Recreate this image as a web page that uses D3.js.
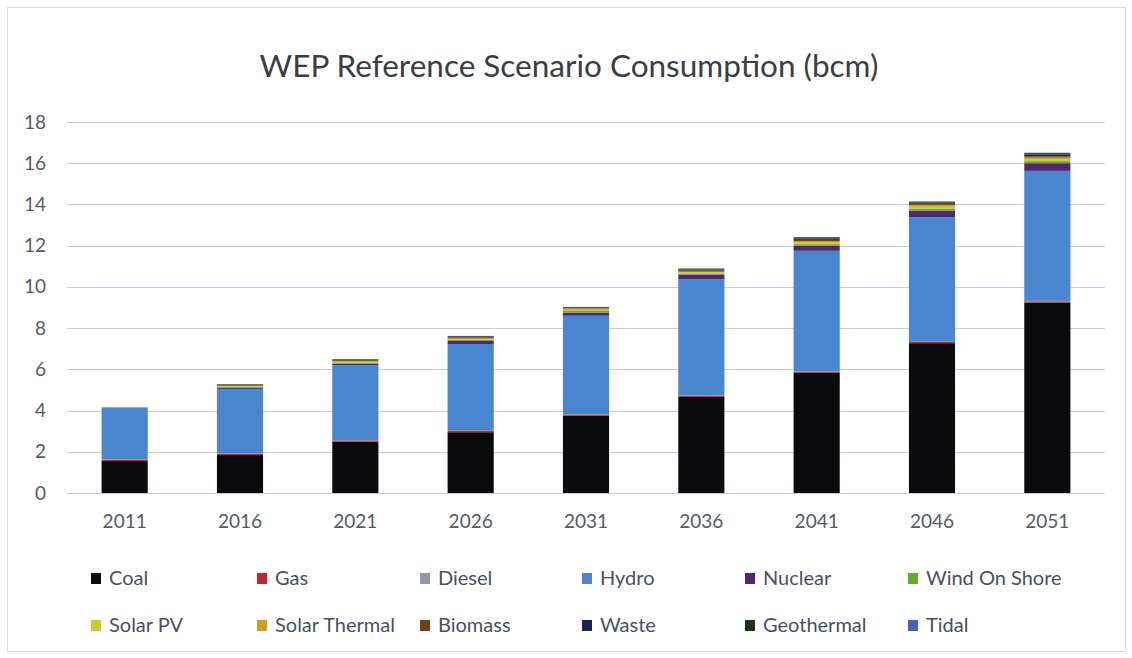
<!DOCTYPE html>
<html>
<head>
<meta charset="utf-8">
<script src="https://cdn.jsdelivr.net/npm/d3@7"></script>
<style>
  html, body { margin: 0; padding: 0; background: #ffffff; }
  svg { display: block; }
</style>
</head>
<body>
<svg id="chart" width="1132" height="658"></svg>
<script>
const years = ["2011", "2016", "2021", "2026", "2031", "2036", "2041", "2046", "2051"];
const seriesNames = ["Coal", "Gas", "Diesel", "Hydro", "Nuclear", "Wind On Shore", "Solar PV", "Solar Thermal", "Biomass", "Waste", "Geothermal", "Tidal"];
const seriesColors = ["#0b0b0d", "#c0262e", "#8d99a6", "#4a85cf", "#52266f", "#6aa82c", "#cfc82e", "#d69a26", "#6b4318", "#1b2553", "#1f3316", "#4462b3"];

const coal         = [1.55, 1.84, 2.49, 2.95, 3.75, 4.66, 5.83, 7.27, 9.24];
const gas          = [0.07, 0.06, 0.06, 0.06, 0.06, 0.06, 0.06, 0.06, 0.06];
const diesel       = [0.01, 0.01, 0.01, 0.01, 0.01, 0.01, 0.01, 0.01, 0.02];
const hydro        = [2.51, 3.14, 3.64, 4.21, 4.78, 5.64, 5.85, 6.04, 6.31];
const nuclear      = [0.01, 0.05, 0.07, 0.15, 0.15, 0.23, 0.24, 0.31, 0.37];
const windOnShore  = [0.01, 0.04, 0.05, 0.05, 0.08, 0.05, 0.08, 0.10, 0.10];
const solarPV      = [0.01, 0.03, 0.04, 0.04, 0.06, 0.05, 0.08, 0.10, 0.08];
const solarThermal = [0.01, 0.03, 0.04, 0.04, 0.06, 0.04, 0.07, 0.09, 0.10];
const biomass      = [0.00, 0.03, 0.03, 0.04, 0.03, 0.05, 0.06, 0.05, 0.06];
const waste        = [0.00, 0.03, 0.03, 0.04, 0.03, 0.05, 0.07, 0.06, 0.08];
const geothermal   = [0.00, 0.02, 0.03, 0.03, 0.02, 0.05, 0.06, 0.05, 0.07];
const tidal        = [0.00, 0.00, 0.00, 0.00, 0.00, 0.00, 0.00, 0.00, 0.02];
const yTicks = [0, 2, 4, 6, 8, 10, 12, 14, 16, 18];
const titleText = "WEP Reference Scenario Consumption (bcm)";

const seriesValues = [coal, gas, diesel, hydro, nuclear, windOnShore, solarPV, solarThermal, biomass, waste, geothermal, tidal];
const table = years.map((y, i) => {
  const row = { year: y };
  seriesNames.forEach((s, j) => { row[s] = seriesValues[j][i]; });
  return row;
});

const svg = d3.select("#chart");
const font = "Lato, 'Open Sans', sans-serif";

// chart frame
svg.append("rect").attr("x", 0).attr("y", 0).attr("width", 1132).attr("height", 658).attr("fill", "#ffffff");
svg.append("rect").attr("x", 7.5).attr("y", 7.5).attr("width", 1118).attr("height", 644)
  .attr("fill", "none").attr("stroke", "#d9dbe3").attr("stroke-width", 1);

const x = d3.scaleBand().domain(years).range([67, 1105]).paddingInner(0.6).paddingOuter(0.3);
const y = d3.scaleLinear().domain([0, 18]).range([493, 122]);

// gridlines
svg.append("g").selectAll("line").data(yTicks).join("line")
  .attr("x1", 67).attr("x2", 1105)
  .attr("y1", d => Math.round(y(d)) + 0.5).attr("y2", d => Math.round(y(d)) + 0.5)
  .attr("stroke", "#c6cbe2").attr("stroke-width", 1);

// y axis labels
const yAxis = d3.axisLeft(y).tickValues(yTicks).tickSize(0).tickPadding(0);
const gy = svg.append("g").attr("transform", "translate(46,0)").call(yAxis);
gy.select(".domain").remove();
gy.selectAll("text").attr("font-family", font).attr("font-size", 19).attr("fill", "#555a66");

// x axis labels
const xAxis = d3.axisBottom(x).tickSize(0).tickPadding(0);
const gx = svg.append("g").attr("transform", "translate(0,514)").call(xAxis);
gx.select(".domain").remove();
gx.selectAll("text").attr("font-family", font).attr("font-size", 19).attr("fill", "#555a66");

// stacked bars
const stack = d3.stack().keys(seriesNames);
const stacked = stack(table);
const color = d3.scaleOrdinal().domain(seriesNames).range(seriesColors);

svg.append("g").selectAll("g").data(stacked).join("g")
  .attr("fill", d => color(d.key))
  .selectAll("rect").data(d => d).join("rect")
  .attr("x", d => x(d.data.year))
  .attr("width", x.bandwidth())
  .attr("y", d => y(d[1]))
  .attr("height", d => Math.max(0, y(d[0]) - y(d[1])));

// title
svg.append("text").attr("x", 569).attr("y", 77).attr("text-anchor", "middle")
  .attr("font-family", font).attr("font-size", 31.5).attr("fill", "#3a3d45")
  .text(titleText);

// legend
const legCols = [91, 257, 420, 582, 745, 908];
const legRows = [578, 625];
const leg = svg.append("g").selectAll("g").data(seriesNames).join("g")
  .attr("transform", (d, i) => `translate(${legCols[i % 6]},${legRows[Math.floor(i / 6)]})`);
leg.append("rect").attr("x", 0).attr("y", -5).attr("width", 10).attr("height", 11)
  .attr("fill", d => color(d));
leg.append("text").attr("x", 18).attr("y", 0).attr("dy", "0.35em")
  .attr("font-family", font).attr("font-size", 20).attr("fill", "#4a4f63")
  .text(d => d);
</script>
</body>
</html>
